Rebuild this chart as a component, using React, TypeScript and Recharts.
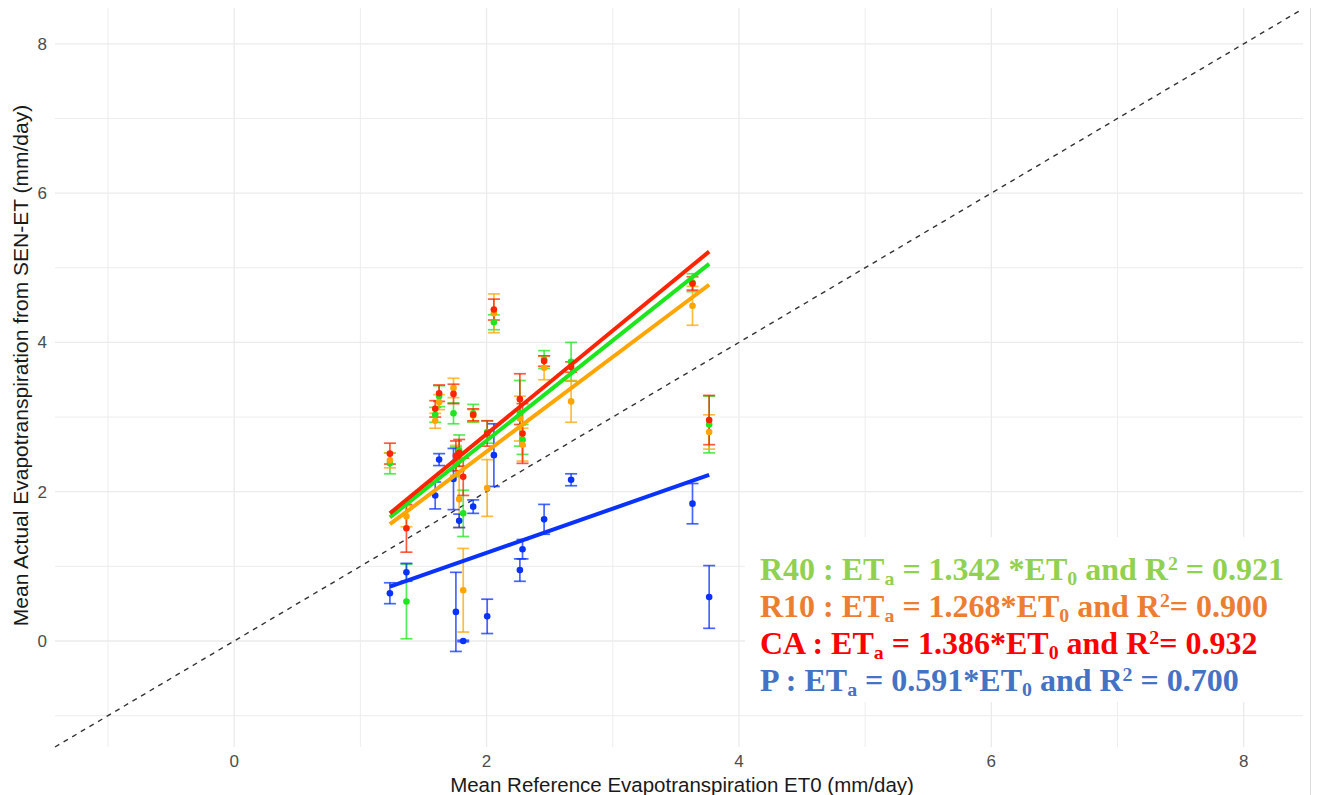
import React from 'react';
import {
  ScatterChart,
  Scatter,
  XAxis,
  YAxis,
  ErrorBar,
  ReferenceLine,
  CartesianGrid,
} from 'recharts';

// Mean reference evapotranspiration per acquisition date (mm/day)
const et0 = [1.234, 1.365, 1.593, 1.624, 1.738, 1.757, 1.783, 1.815, 1.894, 2.005, 2.058, 2.264, 2.285, 2.456, 2.67, 3.632, 3.764];

// Mean actual evapotranspiration from SEN-ET and its spread, per treatment
const caMean = [2.51, 1.51, 3.11, 3.32, 3.31, 2.48, 2.52, 2.2, 3.03, 2.78, 4.44, 3.24, 2.78, 3.75, 3.67, 4.79, 2.96];
const caErr = [0.14, 0.32, 0.11, 0.11, 0.13, 0.2, 0.18, 0.25, 0.08, 0.17, 0.14, 0.34, 0.4, 0.07, 0.07, 0.09, 0.33];

const r40Mean = [2.38, 0.53, 3.03, 3.28, 3.05, 2.4, 2.55, 1.71, 3.05, 2.8, 4.27, 3.05, 2.7, 3.77, 3.74, 4.8, 2.9];
const r40Err = [0.14, 0.5, 0.1, 0.14, 0.14, 0.2, 0.21, 0.31, 0.12, 0.15, 0.1, 0.44, 0.2, 0.12, 0.26, 0.12, 0.38];

const r10Mean = [2.42, 1.67, 2.95, 3.2, 3.39, 2.42, 1.9, 0.68, 3.02, 2.05, 4.39, 2.98, 2.63, 3.66, 3.21, 4.49, 2.8];
const r10Err = [0.1, 0.14, 0.1, 0.1, 0.13, 0.2, 0.38, 0.56, 0.08, 0.38, 0.26, 0.3, 0.22, 0.16, 0.28, 0.26, 0.23];

const pMean = [0.64, 0.92, 1.95, 2.43, 2.17, 0.39, 1.61, 0.0, 1.8, 0.33, 2.49, 0.95, 1.23, 1.63, 2.16, 1.84, 0.59];
const pErr = [0.14, 0.12, 0.18, 0.08, 0.41, 0.53, 0.09, 0.01, 0.09, 0.23, 0.42, 0.15, 0.13, 0.2, 0.08, 0.27, 0.42];

// Regression through the origin: ETa = slope * ET0
const fitNames = ['R40', 'R10', 'CA', 'P'];
const fitSlopes = [1.342, 1.268, 1.386, 0.591];
const fitR2 = [0.921, 0.9, 0.932, 0.7];
const fitTextColors = ['#92d050', '#ed7d31', '#ff0000', '#4472c4'];
const gapBeforeStar = [' ', '', '', ''];
const gapBeforeEq = [' ', '', '', ' '];

const xTicks = [0, 2, 4, 6, 8];
const yTicks = [0, 2, 4, 6, 8];
const minorTicks = [-1, 1, 3, 5, 7];
const xDomain: [number, number] = [-1.42, 8.47];
const yDomain: [number, number] = [-1.42, 8.48];

const COLORS = {
  R40: '#1ee61e',
  R10: '#ffa500',
  CA: '#ff2400',
  P: '#0a32ff',
};

const FONT = '"Liberation Sans", Arial, Helvetica, sans-serif';

const build = (means: number[], errs: number[]) =>
  et0.map((x, i) => ({ x, y: means[i], err: errs[i] }));

const xMin = Math.min(...et0);
const xMax = Math.max(...et0);
const fitLine = (slope: number) => [
  { x: xMin, y: slope * xMin },
  { x: xMax, y: slope * xMax },
];

const dot = (color: string) => (props: any) =>
  <circle cx={props.cx} cy={props.cy} r={3.3} fill={color} />;

const noDot = () => <g />;

const series = [
  { key: 'R40', data: build(r40Mean, r40Err), color: COLORS.R40 },
  { key: 'R10', data: build(r10Mean, r10Err), color: COLORS.R10 },
  { key: 'CA', data: build(caMean, caErr), color: COLORS.CA },
  { key: 'P', data: build(pMean, pErr), color: COLORS.P },
];

// fitted lines drawn in this order so the red one sits on top
const fits = [
  { key: 'R10', slope: fitSlopes[1], color: COLORS.R10 },
  { key: 'R40', slope: fitSlopes[0], color: COLORS.R40 },
  { key: 'CA', slope: fitSlopes[2], color: COLORS.CA },
  { key: 'P', slope: fitSlopes[3], color: COLORS.P },
];

const XTitle = (props: any) => {
  const vb = props.viewBox;
  return (
    <text
      x={vb.x + vb.width / 2 + 3}
      y={vb.y + vb.height - 3}
      textAnchor="middle"
      fontSize={20.5}
      fill="#1a1a1a"
      fontFamily={FONT}
    >
      Mean Reference Evapotranspiration ET0 (mm/day)
    </text>
  );
};

const YTitle = (props: any) => {
  const vb = props.viewBox;
  const cx = vb.x + 20;
  const cy = vb.y + vb.height / 2 - 12;
  return (
    <text
      x={cx}
      y={cy}
      transform={`rotate(-90, ${cx}, ${cy})`}
      textAnchor="middle"
      fontSize={21}
      fill="#1a1a1a"
      fontFamily={FONT}
    >
      Mean Actual Evapotranspiration from SEN-ET (mm/day)
    </text>
  );
};

const Sub = ({ children }: { children: React.ReactNode }) => (
  <span style={{ fontSize: '0.62em', position: 'relative', top: '0.25em' }}>{children}</span>
);
const Sup = ({ children }: { children: React.ReactNode }) => (
  <span style={{ fontSize: '0.62em', position: 'relative', top: '-0.5em' }}>{children}</span>
);

export default function App() {
  return (
    <div style={{ position: 'relative', width: 1304, height: 787, fontFamily: FONT }}>
      <div style={{ position: 'absolute', left: -1, top: -8, width: 1, height: 795, background: '#dedede' }} />
      <div style={{ position: 'absolute', left: 1302, top: -8, width: 1, height: 795, background: '#dedede' }} />
      <ScatterChart width={1304} height={787} margin={{ top: 0, right: 9, bottom: 0, left: 0 }}>
        <CartesianGrid stroke="#ebebeb" strokeWidth={0.9} horizontalValues={minorTicks} verticalValues={minorTicks} />
        <CartesianGrid stroke="#ebebeb" strokeWidth={1.3} horizontalValues={yTicks} verticalValues={xTicks} />
        <XAxis
          type="number"
          dataKey="x"
          domain={xDomain}
          ticks={xTicks}
          allowDataOverflow
          axisLine={false}
          tickLine={false}
          height={48}
          tick={{ fill: '#4d4d4d', fontSize: 17, fontFamily: FONT }}
          label={{ content: XTitle }}
        />
        <YAxis
          type="number"
          dataKey="y"
          domain={yDomain}
          ticks={yTicks}
          allowDataOverflow
          axisLine={false}
          tickLine={false}
          width={47}
          tick={{ fill: '#4d4d4d', fontSize: 17, fontFamily: FONT }}
          label={{ content: YTitle }}
        />
        <ReferenceLine
          segment={[
            { x: xDomain[0], y: xDomain[0] },
            { x: xDomain[1], y: xDomain[1] },
          ]}
          stroke="#333333"
          strokeWidth={1.4}
          strokeDasharray="5 5"
        />
        {series.map((s) => (
          <Scatter
            key={s.key}
            name={s.key}
            data={s.data}
            fill={s.color}
            shape={dot(s.color)}
            isAnimationActive={false}
          >
            <ErrorBar
              dataKey="err"
              direction="y"
              width={6}
              stroke={s.color}
              strokeWidth={1.7}
              strokeOpacity={0.75}
              isAnimationActive={false}
            />
          </Scatter>
        ))}
        {fits.map((f) => (
          <Scatter
            key={'fit-' + f.key}
            data={fitLine(f.slope)}
            fill={f.color}
            line={{ stroke: f.color, strokeWidth: 4 }}
            shape={noDot}
            isAnimationActive={false}
          />
        ))}
      </ScatterChart>
      <div
        style={{
          position: 'absolute',
          left: 737,
          top: 529,
          width: 560,
          height: 165,
          background: '#ffffff',
          paddingTop: 14,
          paddingLeft: 15,
          boxSizing: 'border-box',
          fontFamily: '"Liberation Serif", "Times New Roman", serif',
          fontWeight: 700,
          fontSize: 32,
        }}
      >
        {fitNames.map((name, i) => (
          <div
            key={name}
            style={{ height: 37, lineHeight: '37px', whiteSpace: 'nowrap', color: fitTextColors[i] }}
          >
            {name} : ET<Sub>a</Sub> = {fitSlopes[i].toFixed(3)}
            {gapBeforeStar[i]}*ET<Sub>0</Sub> and R<Sup>2</Sup>
            {gapBeforeEq[i]}= {fitR2[i].toFixed(3)}
          </div>
        ))}
      </div>
    </div>
  );
}
